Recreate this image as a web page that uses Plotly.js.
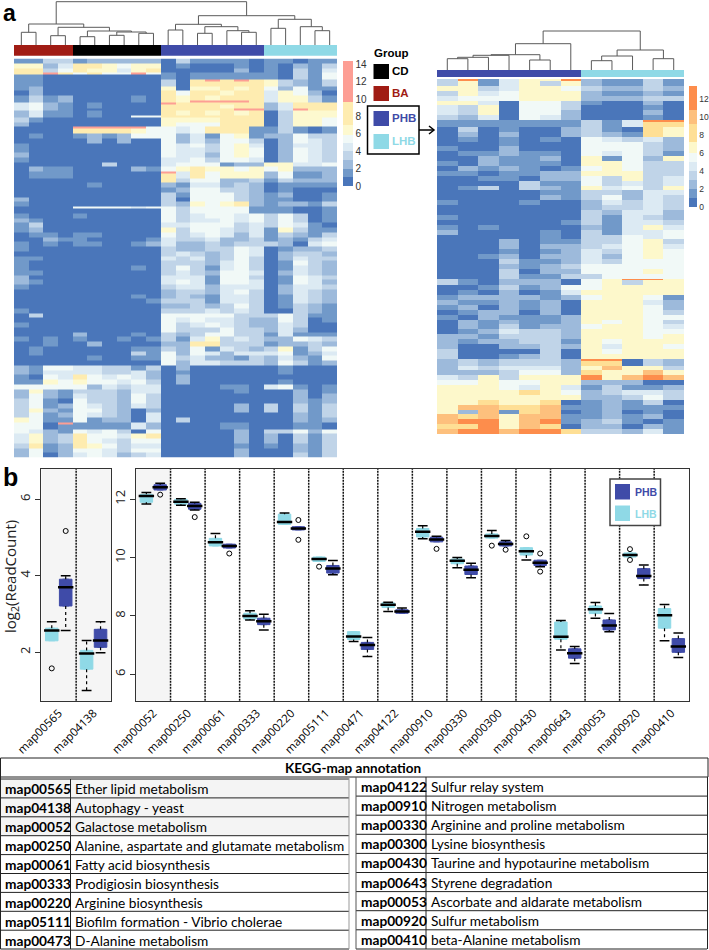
<!DOCTYPE html>
<html>
<head>
<meta charset="utf-8">
<script src="https://cdn.plot.ly/plotly-3.0.1.min.js"></script>
<style>body { margin: 0; background: #fff; }</style>
</head>
<body>
<div id="chart" style="width:709px;height:950px"></div>
<script>
// panel a: heat values per row, one hex digit per cell, spaces split the groups
// a leading '-' marks a thin stripe row
var heatLeftRows = [
  '1133 122222 0311110 11011','6624 776566 0100010 10213','7735 766467 0000020 10314','-99a9 5855a5 1011111 10315',
  '1100 000000 1011111 10315','-1100 000000 307a7a7 63213','1100 000000 3077777 63213','1200 000000 6066767 52511','0200 000000 7577677 46520',
  '1312 000010 7676777 46631','-1312 000010 76aaaa7 46631','-4521 010000 a777777 24777','4521 010000 7777677 24777','-4521 000000 77777aa 24a77',
  '2411 010000 7676767 03666','-2411 010055 7777777 03666','3100 000000 6666777 03665','2000 000000 6555777 03665',
  '-0000 aaaaa5 5457871 13101','0000 777765 5457871 13101','0100 121255 5241561 22533','0000 020200 5242553 02543','1000 000000 5453564 02443',
  '1000 000000 5443565 02543','2000 000000 5442565 02543','1000 000000 4453554 02543','0000 003000 4555122 66445',
  '0211 000021 5676656 56222','-0111 000000 a475666 25112','0111 000000 7475666 25112','0000 000000 7355223 13222','0000 010000 2144232 01111',
  '0000 000000 1255332 01000','0000 000000 3155532 12001','2000 000000 3055532 11001','1000 000000 3265672 12213',
  '-0000 555545 5355551 11001','0000 000000 5355551 11001','1000 100000 5345545 35301','2100 000000 5344545 35301','1300 000000 4455534 35410',
  '1200 000000 6355434 16311','0110 110000 5345424 13213','0021 100001 4334223 12134','1010 110012 4223233 32045',
  '1000 000000 3223354 01223','0000 000000 3432354 02332','1100 000000 4342353 02433','1000 000000 3332453 01532',
  '1000 000010 3531453 01432','1100 000000 3432554 02432','2000 000000 4441553 01543','2100 000000 4541554 01542',
  '1000 000000 3442444 02443','0000 000000 2332453 02432','0000 000010 2321443 01432','0000 000001 3331443 01432',
  '0000 000000 2232353 01321','1000 000000 3334343 00321','0300 000000 5555533 35311','0000 000000 5454432 25301',
  '1000 000000 5345432 24300','0000 000000 5333533 24200','0000 200010 3235533 14111','1010 100101 3146343 22543',
  '0010 020000 2277333 12232','0100 000011 3251432 36135','0100 000031 5254244 45124','0000 010011 5342213 24215',
  '0000 000000 5244333 25312','2155 443313 0200000 01000','2144 443342 0100000 01000','1054 754542 0200000 00000',
  '1165 655453 0200000 01000','5555 524344 0000110 45101','2621 333244 0000010 00201','2521 433253 0000000 00202',
  '3510 533253 0000000 00212','3512 543243 0000020 30313','3621 553202 0000020 30313','3512 543204 0000000 00213',
  '6511 512204 0300000 00212','-550a 111142 0000110 00110','5501 111142 0000110 00110','5421 545305 0000020 33525','4623 755467 0000020 20313',
  '4623 754355 0000020 20313','3712 765344 0000010 10213','2512 554355 0000020 00213','2502 454234 0000020 00313'
];
var heatRightRows = [
  '-3c14 66c 21131','3614 636 21131','6734 775 32232','3645 776 21121','4555 766 22233',
  '6640 553 10020','4360 553 00010','4360 552 00020','3240 542 00010',
  '-1111 111 314cc','1111 111 31488','0301 002 31087','0202 002 32187','0101 010 54342',
  '0001 000 55532','1002 000 55532','0112 110 54531','0021 120 61526',
  '1021 110 66533','0212 101 56533','1101 122 66633','0011 022 53634',
  '0000 311 53434','0130 321 64536','0000 011 33244','0000 021 35243',
  '1000 100 24343','0000 000 23343','0000 000 32442','1000 000 31432',
  '0000 001 31443','1010 000 21464','2000 010 31445','0000 010 33545',
  '0002 011 33563','0002 022 34564','0001 012 43565','0012 022 42565',
  '0003 112 43555','0002 123 55555','0003 022 55565','0003 113 35555',
  '-3102 220 56cc6','3102 220 56376','0013 125 56676','0102 014 66677','1222 212 57651',
  '2112 120 66642','1202 120 67652','0122 020 67653','1021 112 77655',
  '0212 112 65653','0213 122 56654','0124 332 66655','2213 332 77756',
  '2122 331 75666','2002 232 64665','3000 030 65676','3001 230 66666',
  '-2323 332 cc032','2323 332 88032','2434 442 7a773','2223 552 877a7','4363 666 c6aca',
  '5565 566 22200','6765 464 13112','6666 875 23443','6666 666 22353',
  '7787 780 12130','6aa8 8a1 12111','62a1 8a0 12010','a8a7 aa1 12120',
  'acc7 ac1 23101','88c7 a80 22021','acca cc8 33241'
];
var columnGroupsLeft = [1, 1, 1, 1, 0, 0, 0, 0, 0, 0, 2, 2, 2, 2, 2, 2, 2, 3, 3, 3, 3, 3];
var columnGroupsRight = [2, 2, 2, 2, 2, 2, 2, 3, 3, 3, 3, 3];
var groupColors = ['#000000', '#a01c14', '#3f4ba8', '#8fd9e6'];

var breaksLeft = [0, 1, 2, 3, 4, 5, 5.9, 7, 9.7, 14.4];
var colorsLeft = ['#4a76ba', '#7199c9', '#9dbadb', '#c0d4e8', '#dceaf3', '#f1f9f7', '#fdf9cf', '#feecb0', '#fd9e94'];
var breaksRight = [0, 1, 2, 3, 4, 5, 6, 7.3, 9.3, 10.8, 13.5];
var colorsRight = ['#4a76ba', '#7199c9', '#9dbadb', '#c0d4e8', '#dceaf3', '#f1f9f7', '#fdf8cb', '#fedf95', '#fdc07d', '#fd8d4c'];

// dendrograms: [left node, right node, height]; node n+k is the k-th merge
var dendLeft = [
  [0, 1, 12.7], [2, 3, 9.3], [4, 5, 8.3], [6, 7, 9.7], [8, 9, 11.7], [25, 26, 13], [24, 27, 14], [23, 28, 17.7], [22, 29, 21],
  [10, 11, 15], [12, 13, 11.7], [15, 16, 12.7], [14, 33, 14.3], [32, 34, 18.3], [31, 35, 20.7],
  [17, 18, 16.7], [20, 21, 14.3], [19, 38, 18.3], [37, 39, 25.7], [36, 40, 29.3], [30, 41, 43.3]
];
var dendRight = [
  [0, 1, 11.3], [12, 2, 12.7], [13, 3, 14.7], [4, 5, 10], [14, 15, 15.3], [16, 6, 26.3],
  [7, 8, 9.3], [18, 9, 14], [10, 11, 11.3], [19, 20, 20], [17, 21, 39]
];

// panel b: each box is [low, q1, median, q3, high]
var boxCatsLeft = ['map00565', 'map04138'];
var boxCatsRight = ['map00052', 'map00250', 'map00061', 'map00333', 'map00220', 'map05111', 'map00471', 'map04122',
  'map00910', 'map00330', 'map00300', 'map00430', 'map00643', 'map00053', 'map00920', 'map00410'];
var lhbLeft = [[2.30, 2.30, 2.57, 2.63, 2.80], [1.0, 1.56, 1.97, 2.05, 2.31]];
var phbLeft = [[2.57, 3.21, 3.70, 3.91, 4.0], [1.99, 2.13, 2.31, 2.60, 2.80]];
var lhbRight = [
  [11.84, 11.90, 12.11, 12.17, 12.23], [11.80, 11.83, 11.92, 12.0, 12.02], [10.40, 10.40, 10.53, 10.66, 10.83],
  [7.86, 7.89, 8.0, 8.09, 8.18], [11.14, 11.14, 11.22, 11.49, 11.53], [9.87, 9.87, 9.95, 10.02, 10.02],
  [7.12, 7.19, 7.29, 7.46, 7.46], [8.15, 8.29, 8.38, 8.45, 8.47], [10.65, 10.71, 10.89, 11.0, 11.09],
  [9.65, 9.79, 9.89, 9.95, 10.0], [10.67, 10.67, 10.74, 10.81, 10.93], [9.92, 10.09, 10.22, 10.34, 10.34],
  [6.83, 7.20, 7.28, 7.79, 7.84], [7.92, 8.08, 8.23, 8.34, 8.46], [10.02, 10.02, 10.09, 10.16, 10.16],
  [7.15, 7.58, 8.02, 8.25, 8.39]
];
var phbRight = [
  [12.32, 12.32, 12.41, 12.50, 12.55], [11.63, 11.66, 11.77, 11.86, 11.90], [10.33, 10.33, 10.40, 10.46, 10.46],
  [7.52, 7.70, 7.82, 7.92, 8.06], [10.95, 10.95, 11.0, 11.06, 11.06], [9.41, 9.47, 9.63, 9.73, 9.90],
  [6.61, 6.85, 7.0, 7.09, 7.26], [8.09, 8.09, 8.15, 8.21, 8.27], [10.54, 10.54, 10.62, 10.70, 10.73],
  [9.31, 9.42, 9.58, 9.71, 9.81], [10.40, 10.40, 10.47, 10.54, 10.59], [9.69, 9.73, 9.82, 9.91, 9.91],
  [6.37, 6.55, 6.72, 6.87, 6.95], [7.46, 7.52, 7.67, 7.86, 8.08], [9.06, 9.28, 9.37, 9.62, 9.75],
  [6.57, 6.75, 6.95, 7.22, 7.41]
];
// outliers: [category index, value]
var lhbOutLeft = [[0, 1.58]];
var phbOutLeft = [[0, 5.17]];
var lhbOutRight = [[5, 9.69], [10, 10.41], [11, 10.73], [14, 10.29], [14, 9.92]];
var phbOutRight = [[0, 12.16], [1, 11.39], [2, 10.14], [4, 11.29], [4, 10.61], [8, 10.30], [10, 10.27], [11, 10.14], [11, 9.52]];

var tableLeftCodes = ['map00565', 'map04138', 'map00052', 'map00250', 'map00061', 'map00333', 'map00220', 'map05111', 'map00473'];
var tableLeftNames = ['Ether lipid metabolism', 'Autophagy - yeast', 'Galactose metabolism', 'Alanine, aspartate and glutamate metabolism',
  'Fatty acid biosynthesis', 'Prodigiosin biosynthesis', 'Arginine biosynthesis', 'Biofilm formation - Vibrio cholerae', 'D-Alanine metabolism'];
var tableRightCodes = ['map04122', 'map00910', 'map00330', 'map00300', 'map00430', 'map00643', 'map00053', 'map00920', 'map00410'];
var tableRightNames = ['Sulfur relay system', 'Nitrogen metabolism', 'Arginine and proline metabolism', 'Lysine biosynthesis',
  'Taurine and hypotaurine metabolism', 'Styrene degradation', 'Ascorbate and aldarate metabolism', 'Sulfur metabolism', 'beta-Alanine metabolism'];

var W = 709, H = 950;
var ARIAL = '"Liberation Sans", Arial, sans-serif';
var SANS = '"Open Sans", sans-serif';
var TABLE_FONT = 'Lato, sans-serif';
var THIN_ROW = 0.4;

function px(x) { return x / W; }
function py(y) { return 1 - y / H; }
function domX(a, b) { return [px(a), px(b)]; }
function domY(top, bottom) { return [py(bottom), py(top)]; }

function decodeRows(rows) {
  return rows.map(function (r) {
    return r.replace(/[ -]/g, '').split('').map(function (c) { return parseInt(c, 16); });
  });
}
function rowEdges(rows) {
  var edges = [0];
  rows.forEach(function (r) {
    edges.push(edges[edges.length - 1] + (r.charAt(0) === '-' ? THIN_ROW : 1));
  });
  return edges;
}
function stepScale(breaks, colors) {
  var top = breaks[breaks.length - 1], out = [];
  colors.forEach(function (c, i) {
    out.push([breaks[i] / top, c], [breaks[i + 1] / top, c]);
  });
  return out;
}
function dendroTrace(merges, n, xa, ya) {
  var pos = [], hgt = [], xs = [], ys = [], i;
  for (i = 0; i < n; i++) { pos.push(i); hgt.push(0); }
  merges.forEach(function (m) {
    var a = m[0], b = m[1];
    xs.push(pos[a], pos[a], pos[b], pos[b], null);
    ys.push(hgt[a], m[2], m[2], hgt[b], null);
    pos.push((pos[a] + pos[b]) / 2);
    hgt.push(m[2]);
  });
  return { type: 'scatter', mode: 'lines', x: xs, y: ys, xaxis: xa, yaxis: ya,
    line: { color: '#5a5a5a', width: 1 }, hoverinfo: 'skip', showlegend: false };
}
function groupBar(codes, xa, ya) {
  return { type: 'heatmap', z: [codes], xaxis: xa, yaxis: ya, zmin: 0, zmax: 4, showscale: false, hoverinfo: 'skip',
    colorscale: stepScale([0, 1, 2, 3, 4], groupColors) };
}
function heatTrace(rows, breaks, colors, xa, ya, bar) {
  return { type: 'heatmap', z: decodeRows(rows), y: rowEdges(rows), xaxis: xa, yaxis: ya, zmin: 0, zmax: breaks[breaks.length - 1],
    colorscale: stepScale(breaks, colors), hoverinfo: 'skip',
    colorbar: { x: px(bar.x), xanchor: 'left', xpad: 0, y: py(bar.top), yanchor: 'top', ypad: 0,
      thickness: bar.w, thicknessmode: 'pixels', len: bar.len, lenmode: 'pixels', outlinewidth: 0,
      tickvals: bar.ticks, ticks: '', tickfont: { family: ARIAL, size: bar.font, color: '#333' } } };
}

function boxTraces(stats, outs, offset, color, xa, ya) {
  var xs = stats.map(function (s, i) { return i + offset; });
  var col = function (k) { return stats.map(function (s) { return s[k]; }); };
  var wx = [], wy = [], cx = [], cy = [];
  stats.forEach(function (s, i) {
    if (s[0] < s[1]) { wx.push(xs[i], xs[i], null); wy.push(s[1], s[0], null); cx.push(xs[i]); cy.push(s[0]); }
    if (s[4] > s[3]) { wx.push(xs[i], xs[i], null); wy.push(s[3], s[4], null); cx.push(xs[i]); cy.push(s[4]); }
  });
  return [
    { type: 'scatter', mode: 'lines', x: wx, y: wy, xaxis: xa, yaxis: ya, hoverinfo: 'skip',
      line: { color: '#000', width: 1.2, dash: '3px,3px' } },
    { type: 'scatter', mode: 'markers', x: cx, y: cy, xaxis: xa, yaxis: ya, hoverinfo: 'skip',
      marker: { symbol: 'line-ew', size: 7, line: { color: '#000', width: 1.5 } } },
    { type: 'box', x: xs, q1: col(1), median: col(2), q3: col(3), lowerfence: col(1), upperfence: col(3),
      width: 0.36, xaxis: xa, yaxis: ya, fillcolor: color, line: { color: color, width: 1 }, boxpoints: false, hoverinfo: 'skip' },
    { type: 'scatter', mode: 'markers', x: xs, y: col(2), xaxis: xa, yaxis: ya, hoverinfo: 'skip',
      marker: { symbol: 'line-ew', size: 11, line: { color: '#000', width: 2.5 } } },
    { type: 'scatter', mode: 'markers', xaxis: xa, yaxis: ya, hoverinfo: 'skip',
      x: outs.map(function (o) { return o[0] + offset; }), y: outs.map(function (o) { return o[1]; }),
      marker: { symbol: 'circle-open', size: 5, color: '#000', line: { color: '#000', width: 1 } } }
  ];
}

var BLUE = groupColors[2], CYAN = groupColors[3];
var traces = [
  heatTrace(heatLeftRows, breaksLeft, colorsLeft, 'x', 'y', { x: 343, top: 61, w: 10, len: 125, font: 10, ticks: [0, 2, 4, 6, 8, 10, 12, 14] }),
  groupBar(columnGroupsLeft, 'x', 'y2'),
  dendroTrace(dendLeft, 22, 'x', 'y3'),
  heatTrace(heatRightRows, breaksRight, colorsRight, 'x2', 'y4', { x: 689, top: 86, w: 8, len: 121, font: 8.5, ticks: [0, 2, 4, 6, 8, 10, 12] }),
  groupBar(columnGroupsRight, 'x2', 'y5'),
  dendroTrace(dendRight, 12, 'x2', 'y6')
].concat(
  boxTraces(lhbLeft, lhbOutLeft, -0.2, CYAN, 'x3', 'y7'),
  boxTraces(phbLeft, phbOutLeft, 0.2, BLUE, 'x3', 'y7'),
  boxTraces(lhbRight, lhbOutRight, -0.2, CYAN, 'x4', 'y8'),
  boxTraces(phbRight, phbOutRight, 0.2, BLUE, 'x4', 'y8')
);

function hiddenX(n, a, b, anchor) {
  return { domain: domX(a, b), range: [-0.5, n - 0.5], visible: false, anchor: anchor };
}
function hiddenY(range, top, bottom, anchor) {
  return { domain: domY(top, bottom), range: range, visible: false, anchor: anchor };
}
function heatY(rows, top, bottom, anchor) {
  var edges = rowEdges(rows);
  return hiddenY([edges[edges.length - 1], 0], top, bottom, anchor);
}
function boxX(cats, a, b, anchor) {
  return { domain: domX(a, b), range: [-0.5, cats.length - 0.5], anchor: anchor, tickmode: 'array',
    tickvals: cats.map(function (c, i) { return i; }), ticktext: cats, tickangle: -45, ticks: '', showgrid: false, zeroline: false,
    showline: true, mirror: true, linecolor: '#333', linewidth: 1.3, tickfont: { family: SANS, size: 11.5, color: '#000' } };
}
function boxY(range, vals, anchor) {
  return { domain: domY(469, 700.7), range: range, anchor: anchor, tickmode: 'array', tickvals: vals, tickangle: -90,
    ticks: 'outside', ticklen: 5, tickcolor: '#333', showgrid: false, zeroline: false,
    showline: true, mirror: true, linecolor: '#333', linewidth: 1.3, tickfont: { family: SANS, size: 13, color: '#222' } };
}

var shapes = [], annotations = [];
function rect(x0, y0, x1, y1, fill, line, width, layer) {
  shapes.push({ type: 'rect', xref: 'paper', yref: 'paper', x0: px(x0), x1: px(x1), y0: py(y0), y1: py(y1),
    fillcolor: fill || 'rgba(0,0,0,0)', line: { color: line || '#000', width: line ? (width || 1) : 0 }, layer: layer || 'above' });
}
function hline(x0, x1, y, color, width) {
  shapes.push({ type: 'line', xref: 'paper', yref: 'paper', x0: px(x0), x1: px(x1), y0: py(y), y1: py(y), line: { color: color, width: width } });
}
function vline(x, y0, y1, color, width) {
  shapes.push({ type: 'line', xref: 'paper', yref: 'paper', x0: px(x), x1: px(x), y0: py(y0), y1: py(y1), line: { color: color, width: width } });
}
function label(text, x, y, size, color, family, anchor) {
  annotations.push({ text: text, xref: 'paper', yref: 'paper', x: px(x), y: py(y), xanchor: anchor || 'left', yanchor: 'middle',
    showarrow: false, font: { size: size, color: color || '#000', family: family || ARIAL }, borderpad: 0 });
}

// shaded cells and dotted dividers of panel b
shapes.push({ type: 'rect', xref: 'x3', yref: 'y7 domain', x0: -0.5, x1: 1.5, y0: 0, y1: 1, fillcolor: '#f5f5f5', line: { width: 0 }, layer: 'below' });
shapes.push({ type: 'rect', xref: 'x4', yref: 'y8 domain', x0: -0.5, x1: 0.5, y0: 0, y1: 1, fillcolor: '#f5f5f5', line: { width: 0 }, layer: 'below' });
boxCatsLeft.slice(1).forEach(function (c, i) {
  shapes.push({ type: 'line', xref: 'x3', yref: 'y7 domain', x0: i + 0.5, x1: i + 0.5, y0: 0, y1: 1, layer: 'below', line: { color: '#111', width: 1.5, dash: '2px,1px' } });
});
boxCatsRight.slice(1).forEach(function (c, i) {
  shapes.push({ type: 'line', xref: 'x4', yref: 'y8 domain', x0: i + 0.5, x1: i + 0.5, y0: 0, y1: 1, layer: 'below', line: { color: '#111', width: 1.5, dash: '2px,1px' } });
});

label('<b>a</b>', 2, 13.5, 23);
label('<b>b</b>', 2, 477, 25);

// y title of panel b
annotations.push({ text: 'log<sub>2</sub>(ReadCount)', xref: 'paper', yref: 'paper', x: px(11), y: py(577), textangle: -90,
  xanchor: 'center', yanchor: 'middle', showarrow: false, font: { family: SANS, size: 15, color: '#222' } });

// group legend
label('<b>Group</b>', 373, 53, 11.5);
rect(373.5, 64, 389, 79, groupColors[0]);
label('<b>CD</b>', 391, 71, 11.5, groupColors[0]);
rect(373.5, 86, 389, 101, groupColors[1]);
label('<b>BA</b>', 391, 93, 11.5, groupColors[1]);
rect(367.5, 106, 419, 154, '#fff', '#000', 1.5);
rect(373.5, 111, 389, 126, BLUE);
label('<b>PHB</b>', 391, 118, 11.5, BLUE);
rect(373.5, 134, 389, 149, CYAN);
label('<b>LHB</b>', 391, 141, 11.5, CYAN);
// arrow from the box to the right heat map
hline(419, 433, 130, '#000', 1.5);
shapes.push({ type: 'path', xref: 'paper', yref: 'paper', line: { color: '#000', width: 1.5 },
  path: 'M ' + px(429) + ',' + py(126) + ' L ' + px(434) + ',' + py(130) + ' L ' + px(429) + ',' + py(134) });

// legend of panel b
rect(610, 479, 660.5, 525.5, '#fff', '#444', 1.5);
rect(615, 484, 630, 499.5, BLUE);
label('<b>PHB</b>', 634, 492, 10.5, BLUE);
rect(615, 505.5, 630, 521, CYAN);
label('<b>LHB</b>', 634, 513.5, 10.5, CYAN);

// annotation table
rect(0.5, 758, 708, 777, null, '#222', 1);
label('<b>KEGG-map annotation</b>', 353, 768, 13.5, '#000', TABLE_FONT, 'center');
var ROW_LEFT = 18.9, ROW_RIGHT = 19.1, LEFT_TOP = 779, RIGHT_TOP = 777;
var TABLE_SIZE = 13.7;
rect(0.5, LEFT_TOP, 349, LEFT_TOP + 3 * ROW_LEFT, '#f4f4f4', null, 0, 'below');
tableLeftCodes.forEach(function (c, i) {
  var top = LEFT_TOP + i * ROW_LEFT;
  hline(0.5, 349, top, '#222', 1);
  label('<b>' + c + '</b>', 4, top + ROW_LEFT / 2 + 0.5, TABLE_SIZE, '#000', TABLE_FONT);
  label(tableLeftNames[i], 74, top + ROW_LEFT / 2 + 0.5, TABLE_SIZE, '#000', TABLE_FONT);
});
tableRightCodes.forEach(function (c, i) {
  var top = RIGHT_TOP + i * ROW_RIGHT;
  if (i) hline(356, 707, top, '#222', 1);
  label('<b>' + c + '</b>', 360, top + ROW_RIGHT / 2, TABLE_SIZE, '#000', TABLE_FONT);
  label(tableRightNames[i], 430, top + ROW_RIGHT / 2, TABLE_SIZE, '#000', TABLE_FONT);
});
hline(0.5, 349, 949, '#222', 1);
hline(356, 707, 949, '#222', 1);
vline(0.5, 777, 949, '#222', 1);
vline(70.5, 779, 949, '#222', 1);
vline(349, 777, 949, '#999', 1);
vline(356, 777, 949, '#555', 1);
vline(426, 777, 949, '#222', 1);
vline(707.5, 777, 949, '#222', 1);

var layout = {
  width: W, height: H, margin: { l: 0, r: 0, t: 0, b: 0, autoexpand: false },
  paper_bgcolor: '#fff', plot_bgcolor: 'rgba(0,0,0,0)', showlegend: false, boxmode: 'overlay',
  xaxis: hiddenX(22, 14, 337, 'y'),
  yaxis: heatY(heatLeftRows, 58.5, 457.5, 'x'),
  yaxis2: hiddenY([-0.5, 0.5], 45, 55.7, 'x'),
  yaxis3: hiddenY([0, 45], 0, 45, 'x'),
  xaxis2: hiddenX(12, 437, 684, 'y4'),
  yaxis4: heatY(heatRightRows, 79, 434, 'x2'),
  yaxis5: hiddenY([-0.5, 0.5], 70, 77.3, 'x2'),
  yaxis6: hiddenY([0, 50], 20, 70, 'x2'),
  xaxis3: boxX(boxCatsLeft, 41.3, 111, 'y7'),
  yaxis7: boxY([0.735, 6.79], [2, 4, 6], 'x3'),
  xaxis4: boxX(boxCatsRight, 136, 688.7, 'y8'),
  yaxis8: boxY([5.09, 13.04], [6, 8, 10, 12], 'x4'),
  shapes: shapes, annotations: annotations
};

Plotly.newPlot('chart', traces, layout, { displayModeBar: false, staticPlot: true });
</script>
</body>
</html>
